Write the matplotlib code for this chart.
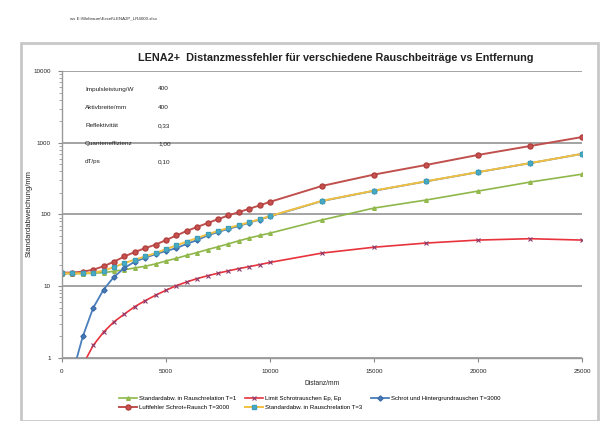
import matplotlib.pyplot as plt
from matplotlib.patches import Rectangle
from matplotlib.ticker import LogLocator, NullFormatter, FixedLocator

plt.rcParams['font.family'] = ['Liberation Sans', 'DejaVu Sans']

# distance grid: 500 mm steps up to 10 m, then 2.5 m steps
dist = [0, 500, 1000, 1500, 2000, 2500, 3000, 3500, 4000, 4500, 5000,
        5500, 6000, 6500, 7000, 7500, 8000, 8500, 9000, 9500, 10000,
        12500, 15000, 17500, 20000, 22500, 25000]

std_t1 = [15, 15, 15, 15.2, 15.5, 16.2, 17, 18, 19, 20.5, 22.5,
          24.5, 27, 29.5, 32.5, 35.5, 39, 43, 47, 51, 55,
          84, 123, 159, 212, 283, 365]

# shot-noise limit starts at 1000 mm (values below 1 are clipped by the log axis)
dist_shot = dist[2:]
shot_limit = [0.8, 1.5, 2.3, 3.2, 4.1, 5.2, 6.3, 7.5, 8.8,
              10.2, 11.5, 12.8, 14, 15.2, 16.4, 17.6, 18.8, 20, 21.5,
              29, 35, 40, 44, 46, 44]

dist_bg = dist[1:]
shot_bg = [0.6, 2.0, 5, 9, 13.5, 18, 22, 25, 28, 31,
           34, 39, 44, 51, 57, 63, 69, 77, 85, 94,
           154, 214, 289, 389, 519, 699]

air_total = [15.5, 15.5, 16, 17, 19, 22, 26, 30, 34, 38, 44,
             51, 59, 67, 76, 86, 97, 108, 120, 134, 150,
             250, 360, 490, 676, 900, 1200]

std_t3 = [15.2, 15.1, 15.2, 15.5, 16.5, 18.5, 21, 23.5, 26, 29, 33,
          37, 42, 47, 53, 59, 65, 71, 78, 86, 95,
          155, 215, 290, 390, 520, 700]

params = ['Impulsleistung/W', 'Aktivbreite/mm', 'Reflektivität',
          'Quanteneffizienz', 'dT/ps']
param_vals = ['400', '400', '0,33', '1,00', '0,10']

fig = plt.figure(figsize=(6.05, 4.21), dpi=100)

# chart frame
fig.patches.append(Rectangle((21 / 605, 0.0), 577 / 605, 1 - 43 / 421,
                             transform=fig.transFigure, fill=False,
                             edgecolor='#c8c8c8', linewidth=2))
fig.text(70 / 605, 1 - 18 / 421, r'ws E:\Weltraum\Excel\LENA2P_LR4000.xlsx',
         fontsize=3.2, color='#333333', va='center')
fig.text(0.555, 1 - 58 / 421,
         'LENA2+  Distanzmessfehler für verschiedene Rauschbeiträge vs Entfernung',
         fontsize=7.8, fontweight='bold', ha='center', va='center', color='#222222')

ax = fig.add_axes([62 / 605, 1 - 358 / 421, 520 / 605, 287 / 421])
ax.set_yscale('log')
ax.set_xlim(0, 25000)
ax.set_ylim(1, 10000)

l1, = ax.plot(dist, std_t1, color='#8fb74a', lw=1.2, marker='^', ms=2.6,
              mfc='#a8c45a', mec='#8fb74a', label='Standardabw. in Rauschrelation T=1')
l2, = ax.plot(dist_shot, shot_limit, color='#e8323c', lw=1.2, marker='x', ms=3,
              mec='#8a3a6a', mew=0.8, label='Limit Schrotrauschen Ep, Ep')
l3, = ax.plot(dist_bg, shot_bg, color='#4a7ebb', lw=1.3, marker='D', ms=2.6,
              mfc='#4a7ebb', mec='#3a6aa8', label='Schrot und Hintergrundrauschen T=3000')
l4, = ax.plot(dist, air_total, color='#c0504d', lw=1.4, marker='o', ms=3.6,
              mfc='#c8504d', mec='#b04040', label='Luftfehler Schrot+Rausch T=3000')
l5, = ax.plot(dist, std_t3, color='#f2c040', lw=1.4, marker='s', ms=3,
              mfc='#4bacc6', mec='#3f9fb8', label='Standardabw. in Rauschrelation T=3')

ax.yaxis.set_major_locator(FixedLocator([1, 10, 100, 1000, 10000]))
ax.yaxis.set_minor_locator(LogLocator(base=10, subs=range(2, 10)))
ax.yaxis.set_minor_formatter(NullFormatter())
ax.set_yticklabels(['1', '10', '100', '1000', '10000'])
ax.set_xticks([0, 5000, 10000, 15000, 20000, 25000])
ax.set_xticklabels(['0', '5000', '10000', '15000', '20000', '25000'])
ax.tick_params(axis='both', which='major', labelsize=4.5, length=3,
               color='#888888', labelcolor='#222222', pad=5)
ax.tick_params(axis='y', which='minor', length=2, color='#999999')
ax.grid(True, which='major', axis='y', color='#8a8a8a', lw=1.1)
ax.set_axisbelow(True)
for side in ('top', 'right'):
    ax.spines[side].set_visible(False)
for side in ('left', 'bottom'):
    ax.spines[side].set_color('#999999')
    ax.spines[side].set_linewidth(1.0)

ax.set_xlabel('Distanz/mm', fontsize=4.8, labelpad=4, color='#222222')
fig.text(29 / 605, 1 - 214 / 421, 'Standardabweichung/mm', rotation=90,
         fontsize=5.5, ha='center', va='center', color='#222222')

# parameter table in the upper left corner
for i, (name, val) in enumerate(zip(params, param_vals)):
    y = 1 - (89 + i * 18.2) / 421
    fig.text(85 / 605, y, name, fontsize=4.6, va='center', color='#222222')
    fig.text(158 / 605, y, val, fontsize=4.6, va='center', color='#222222')

handles = [l1, l4, l2, l5, l3]
fig.legend(handles=handles, labels=[h.get_label() for h in handles],
           ncol=3, loc='center', bbox_to_anchor=(310 / 605, 1 - 403 / 421),
           fontsize=4.3, frameon=False, handlelength=3, columnspacing=1.5,
           labelspacing=0.6, handletextpad=0.3)

fig.savefig('out.png', dpi=100)
